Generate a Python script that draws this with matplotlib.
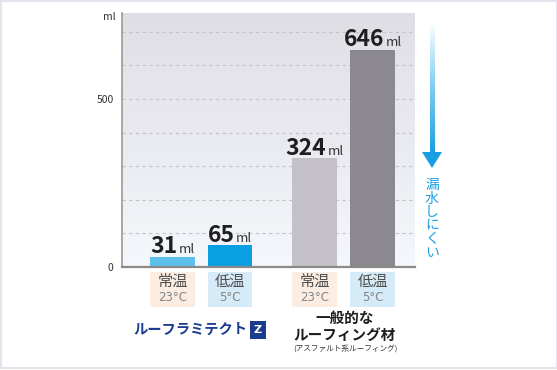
import matplotlib.pyplot as plt
import numpy as np
from matplotlib.offsetbox import TextArea, HPacker, AnnotationBbox
from matplotlib.patches import Rectangle, Polygon
from matplotlib.colors import LinearSegmentedColormap
import matplotlib.transforms as mtransforms

plt.rcParams['font.family'] = ['Noto Sans CJK JP', 'DejaVu Sans']

# data
values = [31, 65, 324, 646]
conditions = ['常温', '低温', '常温', '低温']
temps = ['23°C', '5°C', '23°C', '5°C']
grid_levels = [100, 200, 300, 400, 500, 600, 700]
ytick_labels = {0: '0', 500: '500'}

bar_colors = ['#5dc1ec', '#0a9ee2', '#c3c1c7', '#8b898f']
cond_bg = ['#fbede1', '#d5ebf8', '#fbede1', '#d5ebf8']
xpos = [0, 1, 2.47, 3.48]
bw = 0.78

W, H = 557, 370
fig = plt.figure(figsize=(W / 100, H / 100), dpi=100)
fig.patch.set_facecolor('white')

ax = fig.add_axes([122 / W, 1 - 267 / H, 293 / W, 254 / H])
xlim = (-0.878, 4.217)
ylim = (0, 756)

# gradient background of the plot area
bg_cmap = LinearSegmentedColormap.from_list('bg', ['#dfdee5', '#f4f7fb'])
grad = np.linspace(0, 1, 256).reshape(-1, 1)
ax.imshow(grad, cmap=bg_cmap, extent=[xlim[0], xlim[1], ylim[0], ylim[1]],
          aspect='auto', zorder=0)

for g in grid_levels:
    ax.axhline(g, color='#c3c3ca', lw=0.8, ls=(0, (3, 3)), zorder=1)

ax.bar(xpos, values, width=bw, color=bar_colors, zorder=2)

ax.set_xlim(*xlim)
ax.set_ylim(*ylim)
ax.set_xticks([])
ax.set_yticks(list(ytick_labels.keys()))
ax.set_yticklabels(list(ytick_labels.values()), fontsize=7.5, color='#333333')
ax.tick_params(axis='y', length=0, pad=6)
for s in ['top', 'right']:
    ax.spines[s].set_visible(False)
ax.spines['left'].set_color('#9a9a9a')
ax.spines['left'].set_linewidth(1.2)
ax.spines['bottom'].set_color('#8a8a8a')
ax.spines['bottom'].set_linewidth(1.6)
ax.spines['left'].set_zorder(3)
ax.spines['bottom'].set_zorder(3)

blend = mtransforms.blended_transform_factory(ax.transAxes, ax.transData)
ax.text(-0.023, 744, 'ml', transform=blend, ha='right', va='center',
        fontsize=7.5, color='#333333')

# value labels
for xi, v in zip(xpos, values):
    num = TextArea(str(v), textprops=dict(fontsize=16.5, fontweight='bold', color='#1e1e1e'))
    unit = TextArea('ml', textprops=dict(fontsize=9.5, color='#333333'))
    pack = HPacker(children=[num, unit], align='baseline', pad=0, sep=1)
    ab = AnnotationBbox(pack, (xi, v), xybox=(0, -1), xycoords='data',
                        boxcoords='offset points', box_alignment=(0.5, 0),
                        frameon=False, pad=0, annotation_clip=False)
    ax.add_artist(ab)

# condition boxes under the bars
bx = mtransforms.blended_transform_factory(ax.transData, ax.transAxes)
for xi, c, t, bg in zip(xpos, conditions, temps, cond_bg):
    ax.add_patch(Rectangle((xi - bw / 2, -0.157), bw, 0.137, transform=bx,
                           facecolor=bg, edgecolor='none', clip_on=False))
    ax.text(xi, -0.058, c, transform=bx, ha='center', va='center',
            fontsize=11, color='#505050')
    ax.text(xi, -0.122, t, transform=bx, ha='center', va='center',
            fontsize=8.5, color='#858585', family=['DejaVu Sans'])

# overlay in pixel coordinates for the decorations
ov = fig.add_axes([0, 0, 1, 1])
ov.patch.set_alpha(0)

arrow_cmap = LinearSegmentedColormap.from_list('arr', ['#ffffff', '#7fcdf2', '#1a9ee2'])
ov.imshow(grad, cmap=arrow_cmap, extent=[429.5, 434.5, 153, 22], aspect='auto')
ov.add_patch(Polygon([[422, 152], [442, 152], [432, 168]], closed=True,
                     facecolor='#1a9ee2', edgecolor='none'))
ov.text(432, 219, '\n'.join('漏水しにくい'), ha='center', va='center',
        fontsize=10, color='#1a9ee2', linespacing=0.95)

ov.text(247, 330, 'ルーフラミテクト', ha='right', va='center', fontsize=10.3,
        fontweight='bold', color='#1b3c8e')
ov.text(258, 330, 'Z', ha='center', va='center', fontsize=8, fontweight='bold',
        color='white', family=['DejaVu Sans'],
        bbox=dict(boxstyle='square,pad=0.35', facecolor='#1b3c8e', edgecolor='none'))

ov.text(345, 318, '一般的な', ha='center', va='center', fontsize=10.5,
        fontweight='bold', color='#1e1e1e')
ov.text(345, 335, 'ルーフィング材', ha='center', va='center', fontsize=10.5,
        fontweight='bold', color='#1e1e1e')
ov.text(345, 349, '(アスファルト系ルーフィング)', ha='center', va='center',
        fontsize=5.5, color='#333333')

ov.add_patch(Rectangle((0.5, 0.5), W - 1, H - 3, fill=False,
                       edgecolor='#e4e4ef', lw=1.5))
ov.set_xlim(0, W)
ov.set_ylim(H, 0)
ov.axis('off')

fig.savefig('out.png', dpi=100)
